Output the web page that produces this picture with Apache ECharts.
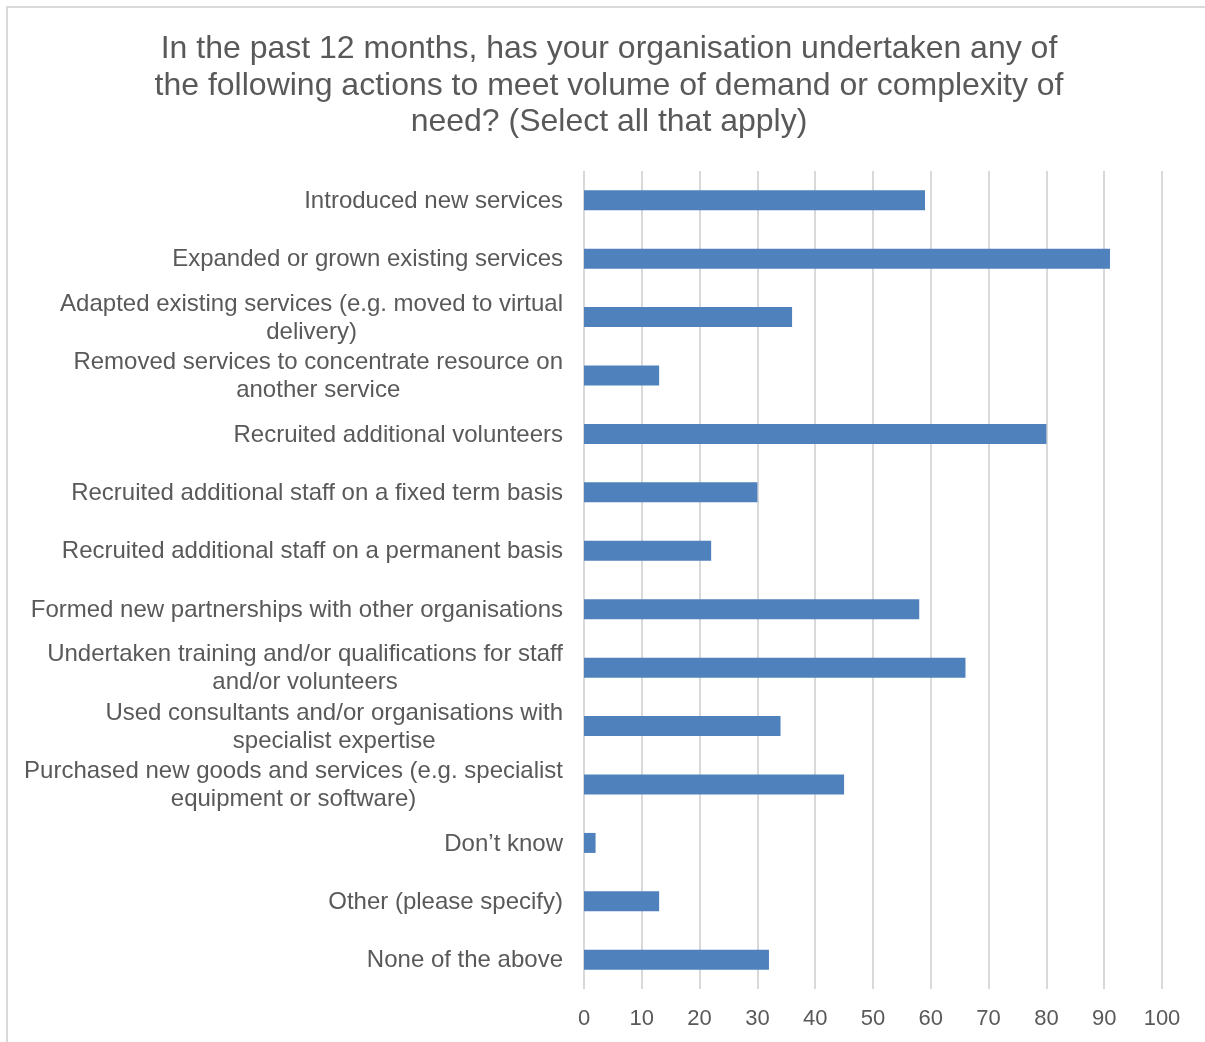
<!DOCTYPE html>
<html>
<head>
<meta charset="utf-8">
<title>Actions to meet demand</title>
<script src="https://cdn.jsdelivr.net/npm/echarts@6/dist/echarts.min.js"></script>
<style>
  html, body { margin: 0; padding: 0; background: #ffffff; }
  #chart { width: 1205px; height: 1042px; }
</style>
</head>
<body>
<div id="chart"></div>
<script>
// Survey answers, in the order they are listed (top to bottom)
const categories = [
  'Introduced new services',
  'Expanded or grown existing services',
  'Adapted existing services (e.g. moved to virtual\ndelivery)',
  'Removed services to concentrate resource on\nanother service',
  'Recruited additional volunteers',
  'Recruited additional staff on a fixed term basis',
  'Recruited additional staff on a permanent basis',
  'Formed new partnerships with other organisations',
  'Undertaken training and/or qualifications for staff\nand/or volunteers',
  'Used consultants and/or organisations with\nspecialist expertise',
  'Purchased new goods and services (e.g. specialist\nequipment or software)',
  'Don\u2019t know',
  'Other (please specify)',
  'None of the above'
];

// Number of organisations selecting each action
const responses = [59, 91, 36, 13, 80, 30, 22, 58, 66, 34, 45, 2, 13, 32];

// Value axis ticks
const axisMin = 0;
const axisMax = 100;
const axisStep = 10;

const titleText = 'In the past 12 months, has your organisation undertaken any of\n' +
  'the following actions to meet volume of demand or complexity of\n' +
  'need? (Select all that apply)';

const textColor = '#595959';
const gridColor = '#d9d9d9';
const barColor = '#4f81bd';
const fontFamily = 'Liberation Sans, Arial, sans-serif';

const chart = echarts.init(document.getElementById('chart'), null, { renderer: 'canvas' });

chart.setOption({
  animation: false,
  backgroundColor: '#ffffff',
  textStyle: { fontFamily: fontFamily },
  graphic: [{
    type: 'rect',
    shape: { x: 7, y: 7, width: 1400, height: 1200 },
    style: { fill: 'none', stroke: gridColor, lineWidth: 2 },
    silent: true,
    z: -1
  }],
  title: {
    text: titleText,
    left: 604,
    top: 26,
    textAlign: 'center',
    textStyle: {
      color: textColor,
      fontFamily: fontFamily,
      fontWeight: 'normal',
      fontSize: 32,
      lineHeight: 36.5
    }
  },
  grid: {
    left: 584,
    right: 43,
    top: 171,
    bottom: 53,
    containLabel: false
  },
  xAxis: {
    type: 'value',
    min: axisMin,
    max: axisMax,
    interval: axisStep,
    axisLine: { show: false },
    axisTick: { show: false },
    splitLine: { show: true, lineStyle: { color: gridColor, width: 2 } },
    axisLabel: {
      color: textColor,
      fontFamily: fontFamily,
      fontSize: 22,
      margin: 19
    }
  },
  yAxis: {
    type: 'category',
    data: categories,
    inverse: true,
    axisLine: { show: false },
    axisTick: { show: false },
    splitLine: { show: false },
    axisLabel: {
      margin: 21,
      align: 'right',
      // wrapped labels: block sits right of the axis gap, lines centred within it
      formatter: function (value) {
        return value.split('\n').map(function (line) {
          return '{c|' + line + '}';
        }).join('\n');
      },
      rich: {
        c: {
          align: 'center',
          color: textColor,
          fontFamily: fontFamily,
          fontSize: 24,
          lineHeight: 28,
          padding: [2, 0, 0, 0]
        }
      }
    }
  },
  series: [{
    type: 'bar',
    data: responses,
    barWidth: 20,
    itemStyle: { color: barColor },
    emphasis: { disabled: true }
  }]
});
</script>
</body>
</html>
